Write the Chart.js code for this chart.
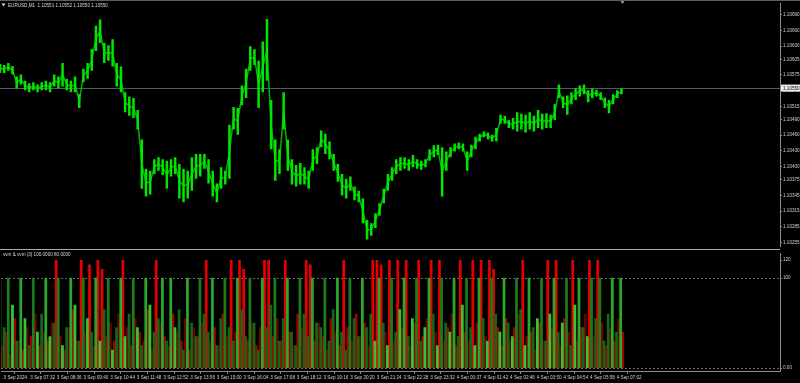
<!DOCTYPE html>
<html><head><meta charset="utf-8">
<script src="https://cdn.jsdelivr.net/npm/chart.js@4.4.1/dist/chart.umd.min.js"></script>
<style>
html,body{margin:0;padding:0;background:#000;overflow:hidden;width:800px;height:383px}
canvas{position:absolute;left:0;display:block}
#main{top:0}
#ind{top:250px}
</style></head><body>
<canvas id="main" width="800" height="250"></canvas>
<canvas id="ind" width="800" height="133"></canvas>
<script>
// ---------------- data ----------------
const symbolTitle = "EURUSD,M1  1.10551 1.10552 1.10550 1.10550";
const indicatorTitle = "vvm & vvm (3) 100.0000 80.0000";
const sampleMinutes = 10;          // one sample every 10 one-minute bars
const timeLabelStep = 64;          // minutes between time labels
const timeAxisMinutes = 1870;      // visible time span incl. right shift
const lastPrice = 1.10550;
const priceAxisMin = 1.10248;
const priceAxisMax = 1.10711;

const priceHigh = [1.10596,1.10594,1.10598,1.10592,1.10572,1.10576,1.10564,1.10559,1.10561,1.10557,
1.10561,1.10564,1.10561,1.10576,1.10572,1.10598,1.10568,1.10564,1.10572,1.10538,
1.10587,1.10598,1.10624,1.10669,1.10681,1.10636,1.10632,1.10643,1.10598,1.10591,
1.10542,1.10534,1.10531,1.10508,1.10452,1.10396,1.10392,1.10414,1.10418,1.10414,
1.10411,1.10414,1.10418,1.10405,1.10396,1.10392,1.10418,1.10424,1.10424,1.10424,
1.10414,1.10392,1.10368,1.10399,1.10392,1.10480,1.10514,1.10512,1.10555,1.10587,
1.10630,1.10624,1.10602,1.10639,1.10682,1.10527,1.10452,1.10433,1.10542,1.10452,
1.10414,1.10403,1.10407,1.10399,1.10392,1.10433,1.10437,1.10469,1.10463,1.10448,
1.10424,1.10405,1.10386,1.10377,1.10381,1.10362,1.10354,1.10339,1.10298,1.10292,
1.10311,1.10330,1.10358,1.10386,1.10399,1.10414,1.10418,1.10418,1.10414,1.10422,
1.10414,1.10411,1.10414,1.10433,1.10441,1.10442,1.10437,1.10429,1.10437,1.10444,
1.10446,1.10444,1.10429,1.10442,1.10457,1.10463,1.10467,1.10465,1.10461,1.10474,
1.10499,1.10497,1.10489,1.10493,1.10504,1.10501,1.10499,1.10504,1.10497,1.10508,
1.10501,1.10502,1.10499,1.10519,1.10557,1.10534,1.10536,1.10542,1.10549,1.10555,
1.10557,1.10546,1.10549,1.10547,1.10542,1.10532,1.10527,1.10538,1.10546,1.10549];

const priceLow = [1.10579,1.10579,1.10583,1.10576,1.10549,1.10557,1.10546,1.10542,1.10546,1.10542,
1.10546,1.10546,1.10542,1.10553,1.10549,1.10553,1.10546,1.10542,1.10542,1.10512,
1.10561,1.10568,1.10583,1.10621,1.10636,1.10598,1.10602,1.10591,1.10553,1.10542,
1.10504,1.10497,1.10493,1.10471,1.10358,1.10343,1.10347,1.10386,1.10392,1.10384,
1.10358,1.10381,1.10386,1.10339,1.10332,1.10339,1.10354,1.10377,1.10381,1.10396,
1.10368,1.10343,1.10332,1.10358,1.10366,1.10377,1.10471,1.10461,1.10517,1.10531,
1.10583,1.10594,1.10512,1.10542,1.10564,1.10433,1.10373,1.10386,1.10471,1.10392,
1.10366,1.10362,1.10366,1.10366,1.10358,1.10392,1.10405,1.10437,1.10424,1.10414,
1.10392,1.10371,1.10345,1.10339,1.10354,1.10336,1.10332,1.10292,1.10261,1.10268,
1.10283,1.10306,1.10330,1.10354,1.10373,1.10386,1.10392,1.10396,1.10392,1.10399,
1.10396,1.10394,1.10399,1.10411,1.10418,1.10422,1.10343,1.10392,1.10418,1.10429,
1.10433,1.10429,1.10392,1.10418,1.10433,1.10448,1.10456,1.10452,1.10448,1.10448,
1.10482,1.10482,1.10474,1.10471,1.10467,1.10471,1.10465,1.10471,1.10467,1.10474,
1.10471,1.10474,1.10474,1.10489,1.10531,1.10512,1.10499,1.10519,1.10527,1.10534,
1.10538,1.10523,1.10531,1.10534,1.10527,1.10512,1.10502,1.10519,1.10531,1.10538];

const priceTicks = [1.10690,1.10660,1.10630,1.10605,1.10575,1.10545,1.10515,1.10490,
1.10460,1.10430,1.10400,1.10375,1.10345,1.10315,1.10285,1.10255];

const timeLabels = ["3 Sep 2024","3 Sep 07:32","3 Sep 08:36","3 Sep 09:40","3 Sep 10:44",
"3 Sep 11:48","3 Sep 12:52","3 Sep 13:56","3 Sep 15:00","3 Sep 16:04","3 Sep 17:08",
"3 Sep 18:12","3 Sep 19:16","3 Sep 20:20","3 Sep 21:24","3 Sep 22:28","3 Sep 23:32",
"4 Sep 00:37","4 Sep 01:42","4 Sep 02:46","4 Sep 03:50","4 Sep 04:54","4 Sep 05:58","4 Sep 07:02"];

const upValues = [100,45,100,70,30,100,55,25,100,40,
60,100,35,50,100,25,45,100,70,30,
100,55,40,100,30,65,100,20,45,100,
35,60,100,45,25,100,70,40,55,100,
30,100,45,65,20,100,50,35,100,60,
40,100,25,55,100,45,30,100,65,35,
100,50,20,100,45,70,100,30,55,100,
40,25,100,60,35,100,50,45,100,30,
65,100,40,20,100,55,35,100,45,60,
30,100,50,25,100,40,65,100,35,55,
100,30,45,100,60,25,100,50,40,100,
35,70,100,45,25,100,55,30,100,60,
40,100,50,35,100,65,25,100,45,55,
100,30,60,100,40,50,100,25,70,100,
45,35,100,55,100,30,60,100,40,100];

const downValues = [25,40,15,55,30,20,45,35,60,25,
40,30,50,120,35,20,45,65,30,120,
40,115,25,120,110,35,50,30,60,120,
45,25,55,40,30,65,20,120,50,35,
25,60,40,30,55,20,45,35,50,120,
30,45,25,60,35,120,40,120,110,30,
50,25,45,120,120,35,55,30,120,40,
25,60,45,120,115,30,50,35,20,55,
40,25,120,45,30,60,35,50,25,120,
120,115,40,120,30,120,45,120,25,50,
120,35,55,120,40,120,30,45,60,25,
120,40,30,120,50,120,35,120,110,45,
25,55,30,45,60,120,35,40,20,50,
30,120,45,120,25,55,40,120,30,45,
60,120,35,120,50,25,45,30,55,40];

const indicatorTicks = [0,100,120];
const indicatorLevels = [0,100];
const indicatorMin = -3.26, indicatorMax = 127.2;

// ---------------- helpers ----------------
const FONT = "'Liberation Sans', Arial, sans-serif";
const AXIS_COLOR = '#8c8c8c';
const TEXT_COLOR = '#d0d0d0';
const xOf = i => i * sampleMinutes;

const mainDecor = {
  id: 'mainDecor',
  beforeDatasetsDraw(chart) {
    const {ctx, chartArea, scales} = chart;
    const y = Math.round(scales.y.getPixelForValue(lastPrice)) + 0.5;
    ctx.save();
    ctx.strokeStyle = '#535b69'; ctx.lineWidth = 1;
    ctx.beginPath(); ctx.moveTo(chartArea.left, y); ctx.lineTo(chartArea.right, y); ctx.stroke();
    ctx.restore();
  },
  afterDraw(chart) {
    const {ctx, chartArea, scales} = chart;
    ctx.save();
    ctx.strokeStyle = '#5e5e5e'; ctx.lineWidth = 1;
    ctx.beginPath(); ctx.moveTo(0, 0.5); ctx.lineTo(800, 0.5); ctx.stroke();
    ctx.strokeStyle = '#a8a8a8';
    ctx.beginPath(); ctx.moveTo(0, 249.5); ctx.lineTo(chartArea.right, 249.5); ctx.stroke();
    ctx.fillStyle = '#d8d8d8';
    ctx.beginPath(); ctx.moveTo(1.5, 3.5); ctx.lineTo(5.5, 3.5); ctx.lineTo(3.5, 6.5); ctx.closePath(); ctx.fill();
    ctx.font = '4.6px ' + FONT; ctx.textBaseline = 'middle'; ctx.textAlign = 'left';
    ctx.fillText(symbolTitle, 8, 5.5);
    const sx = scales.x.getPixelForValue(xOf(priceHigh.length - 1)) + 1;
    ctx.fillStyle = '#9a9a9a';
    ctx.beginPath(); ctx.moveTo(sx - 2, 1); ctx.lineTo(sx + 2, 1); ctx.lineTo(sx, 4); ctx.closePath(); ctx.fill();
    const y = scales.y.getPixelForValue(lastPrice);
    ctx.fillStyle = '#ececec';
    ctx.fillRect(chartArea.right + 1, y - 3.5, 19, 7);
    ctx.fillStyle = '#000';
    ctx.font = '4.6px ' + FONT;
    ctx.fillText(lastPrice.toFixed(5), chartArea.right + 3, y + 0.3);
    ctx.restore();
  }
};

const indDecor = {
  id: 'indDecor',
  beforeDatasetsDraw(chart) {
    const {ctx, chartArea, scales} = chart;
    ctx.save();
    ctx.strokeStyle = '#6a6a6a'; ctx.lineWidth = 1; ctx.setLineDash([2, 2]);
    indicatorLevels.forEach(v => {
      const y = Math.round(scales.y.getPixelForValue(v)) + 0.5;
      ctx.beginPath(); ctx.moveTo(chartArea.left, y); ctx.lineTo(chartArea.right, y); ctx.stroke();
    });
    ctx.restore();
  },
  afterDraw(chart) {
    const {ctx} = chart;
    ctx.save();
    ctx.fillStyle = '#d8d8d8';
    ctx.font = '4.6px ' + FONT; ctx.textBaseline = 'middle'; ctx.textAlign = 'left';
    ctx.fillText(indicatorTitle, 3, 4.5);
    ctx.restore();
  }
};

const tickFont = {family: FONT, size: 4.6};

// ---------------- price chart ----------------
new Chart(document.getElementById('main'), {
  type: 'bar',
  data: {
    datasets: [{
      type: 'line',
      label: 'EURUSD mid',
      data: priceHigh.map((h, i) => ({x: xOf(i), y: (h + priceLow[i]) / 2})),
      borderColor: '#00b400',
      borderWidth: 1.5,
      pointRadius: 0,
      tension: 0,
      order: 2
    }, {
      label: 'EURUSD',
      data: priceHigh.map((h, i) => ({x: xOf(i), y: [priceLow[i], h]})),
      backgroundColor: '#00e600',
      borderWidth: 0,
      barPercentage: 0.6,
      categoryPercentage: 1,
      order: 1
    }]
  },
  options: {
    responsive: false, animation: false, devicePixelRatio: 1,
    layout: {padding: {top: 2, bottom: 1, left: 0, right: 0}},
    plugins: {legend: {display: false}, tooltip: {enabled: false}},
    scales: {
      x: {type: 'linear', display: false, min: 0, max: timeAxisMinutes, offset: false},
      y: {
        position: 'right', min: priceAxisMin, max: priceAxisMax,
        afterFit(s) { s.width = 20; },
        afterBuildTicks(s) { s.ticks = priceTicks.map(v => ({value: v})); },
        ticks: {autoSkip: false, padding: 1, color: TEXT_COLOR, font: tickFont,
                callback: v => Number(v).toFixed(5)},
        grid: {drawOnChartArea: false, drawTicks: true, tickLength: 2, color: AXIS_COLOR},
        border: {display: true, color: AXIS_COLOR}
      }
    }
  },
  plugins: [mainDecor]
});

// ---------------- indicator chart ----------------
const upColor = c => {
  const v = c.parsed ? c.parsed.y : 0, i = c.dataIndex;
  if (v >= 100) return i % 2 ? '#2aa82a' : '#1b7c1b';
  return i % 3 === 0 ? '#36c436' : '#176417';
};
const downColor = c => {
  const v = c.parsed ? c.parsed.y : 0, i = c.dataIndex;
  if (v >= 110) return '#e40000';
  return i % 2 ? '#a30000' : '#6e0000';
};

new Chart(document.getElementById('ind'), {
  type: 'bar',
  data: {
    datasets: [
      {label: 'up', data: upValues.map((v, i) => ({x: xOf(i), y: v})),
       backgroundColor: upColor, borderWidth: 0, barPercentage: 1, categoryPercentage: 1},
      {label: 'down', data: downValues.map((v, i) => ({x: xOf(i), y: v})),
       backgroundColor: downColor, borderWidth: 0, barPercentage: 1, categoryPercentage: 1}
    ]
  },
  options: {
    responsive: false, animation: false, devicePixelRatio: 1,
    layout: {padding: {top: 1, bottom: 0, left: 0, right: 0}},
    plugins: {legend: {display: false}, tooltip: {enabled: false}},
    scales: {
      x: {
        type: 'linear', min: 0, max: timeAxisMinutes, offset: false,
        afterFit(s) { s.height = 12; },
        afterBuildTicks(s) { s.ticks = timeLabels.map((_, k) => ({value: k * timeLabelStep})); },
        ticks: {autoSkip: false, maxRotation: 0, minRotation: 0, align: 'start', padding: 1,
                color: TEXT_COLOR, font: tickFont,
                callback: v => '  ' + timeLabels[Math.round(v / timeLabelStep)]},
        grid: {drawOnChartArea: false, drawTicks: true, tickLength: 3, color: AXIS_COLOR},
        border: {display: true, color: AXIS_COLOR}
      },
      y: {
        position: 'right', min: indicatorMin, max: indicatorMax,
        afterFit(s) { s.width = 20; },
        afterBuildTicks(s) { s.ticks = indicatorTicks.map(v => ({value: v})); },
        ticks: {autoSkip: false, padding: 1, color: TEXT_COLOR, font: tickFont,
                callback: v => v === 0 ? '0.00' : String(v)},
        grid: {drawOnChartArea: false, drawTicks: true, tickLength: 2, color: AXIS_COLOR},
        border: {display: true, color: AXIS_COLOR}
      }
    }
  },
  plugins: [indDecor]
});
</script>
</body></html>
